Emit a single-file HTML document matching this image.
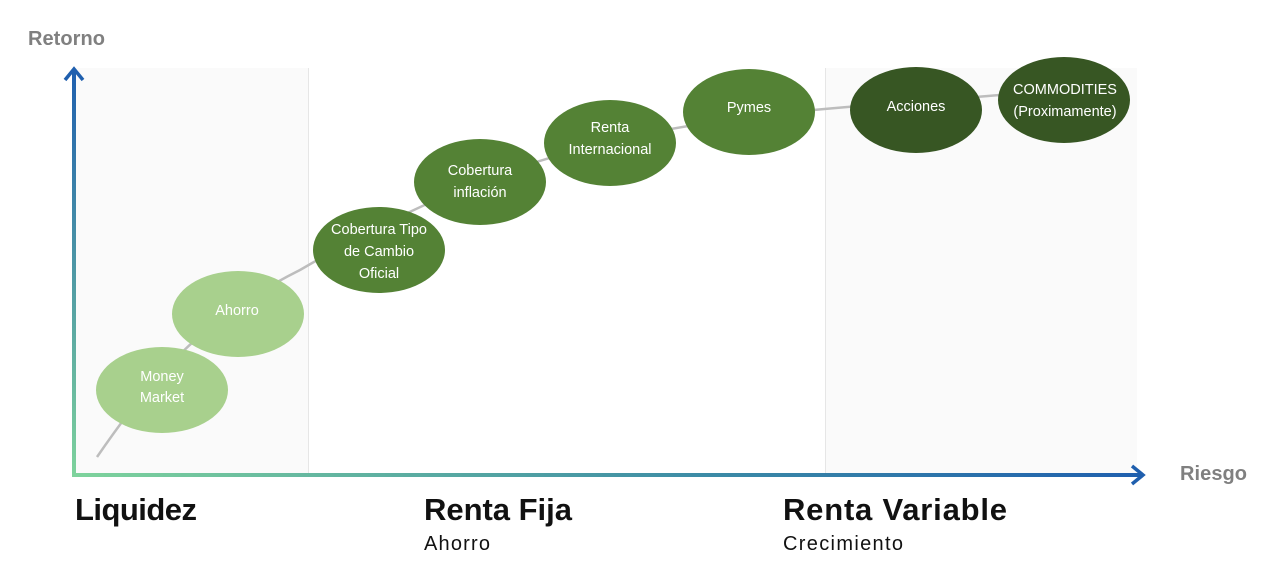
<!DOCTYPE html>
<html><head><meta charset="utf-8"><style>
body{margin:0;width:1280px;height:574px;background:#fff;overflow:hidden;font-family:"Liberation Sans",sans-serif}
svg{position:absolute;left:0;top:0}
</style></head><body>
<svg width="1280" height="574" viewBox="0 0 1280 574">
<defs>
<linearGradient id="gv" x1="0" y1="1" x2="0" y2="0"><stop offset="0" stop-color="#7ed39c"/><stop offset="1" stop-color="#1f5fae"/></linearGradient>
<linearGradient id="gh" x1="0" y1="0" x2="1" y2="0"><stop offset="0" stop-color="#7ed39c"/><stop offset="0.6" stop-color="#3b8aa6"/><stop offset="1" stop-color="#1f5fae"/></linearGradient>
</defs>
<rect x="76" y="68" width="232" height="406" fill="#fafafa"/>
<rect x="826" y="68" width="311" height="406" fill="#fafafa"/>
<line x1="308.5" y1="68" x2="308.5" y2="474" stroke="#e6e6e6"/>
<line x1="825.5" y1="68" x2="825.5" y2="474" stroke="#e6e6e6"/>
<path d="M97 457 C150 380 200 320 300 270 C420 200 520 160 640 135 C760 110 880 105 1000 95" fill="none" stroke="#bdbdbd" stroke-width="2.5"/>
<rect x="72" y="70" width="4" height="407" fill="url(#gv)"/>
<path d="M65 80 L74 69 L83 80" fill="none" stroke="#1f5fae" stroke-width="3.5"/>
<rect x="72" y="473" width="1070" height="4" fill="url(#gh)"/>
<path d="M1132 466 L1143 475 L1132 484" fill="none" stroke="#1f5fae" stroke-width="3.5"/>
<g font-size="14.5" fill="#fff" text-anchor="middle">
<ellipse cx="162" cy="390" rx="66" ry="43" fill="#a8d08d"/>
<text x="162" y="381">Money</text><text x="162" y="402">Market</text>
<ellipse cx="238" cy="314" rx="66" ry="43" fill="#a8d08d"/>
<text x="237" y="315">Ahorro</text>
<ellipse cx="379" cy="250" rx="66" ry="43" fill="#548235"/>
<text x="379" y="234">Cobertura Tipo</text><text x="379" y="256">de Cambio</text><text x="379" y="278">Oficial</text>
<ellipse cx="480" cy="182" rx="66" ry="43" fill="#548235"/>
<text x="480" y="175">Cobertura</text><text x="480" y="197">inflación</text>
<ellipse cx="610" cy="143" rx="66" ry="43" fill="#548235"/>
<text x="610" y="132">Renta</text><text x="610" y="154">Internacional</text>
<ellipse cx="749" cy="112" rx="66" ry="43" fill="#548235"/>
<text x="749" y="112">Pymes</text>
<ellipse cx="916" cy="110" rx="66" ry="43" fill="#375623"/>
<text x="916" y="111">Acciones</text>
<ellipse cx="1064" cy="100" rx="66" ry="43" fill="#375623"/>
<text x="1065" y="94">COMMODITIES</text><text x="1065" y="116">(Proximamente)</text>
</g>
<text x="28" y="45" font-size="20" font-weight="bold" fill="#808080" textLength="77">Retorno</text>
<text x="1180" y="480" font-size="20" font-weight="bold" fill="#808080" textLength="67">Riesgo</text>
<g font-weight="bold" font-size="31" fill="#111">
<text x="75" y="520" textLength="122">Liquidez</text>
<text x="424" y="520" textLength="148">Renta Fija</text>
<text x="783" y="520" textLength="224">Renta Variable</text>
</g>
<text x="424" y="550" font-size="20" fill="#111" textLength="66">Ahorro</text>
<text x="783" y="550" font-size="20" fill="#111" textLength="120">Crecimiento</text>
</svg>
</body></html>
